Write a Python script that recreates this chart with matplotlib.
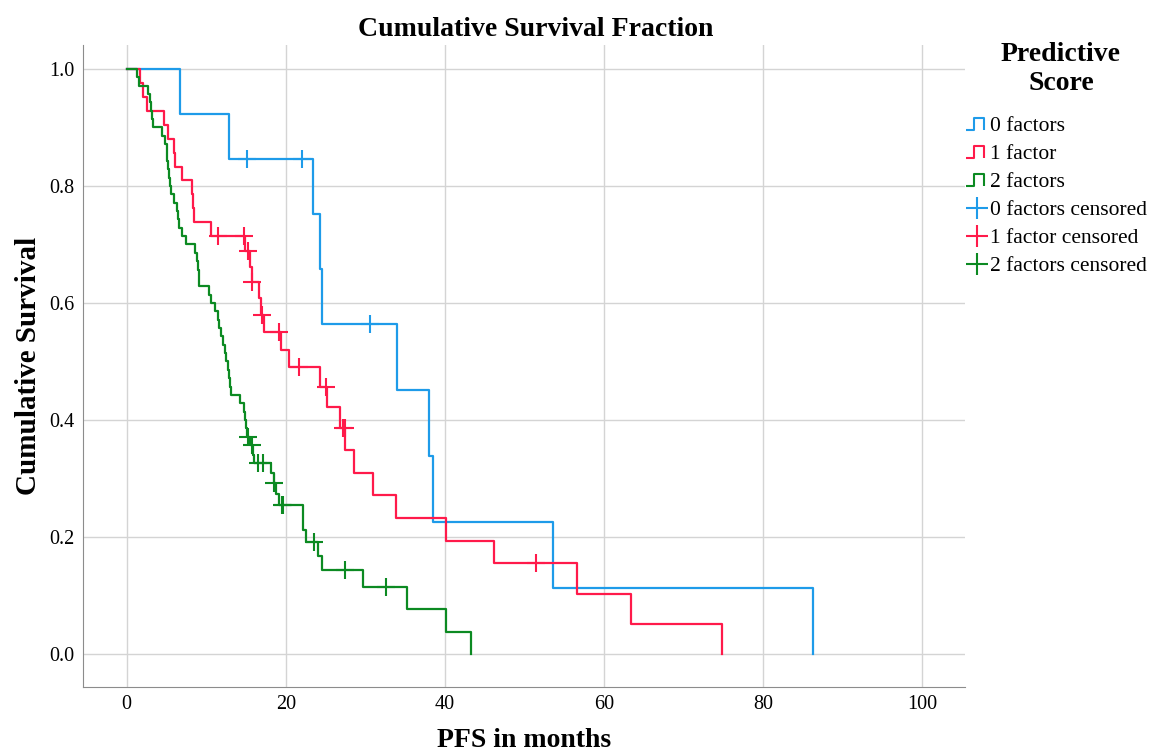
import matplotlib
matplotlib.use('Agg')
import matplotlib.pyplot as plt
from matplotlib.lines import Line2D
from matplotlib.path import Path

# Kaplan-Meier steps: time (months) and survival after each drop
t0 = [0, 6.7, 12.8, 23.4, 24.3, 24.6, 34.0, 38.0, 38.45, 53.6, 86.3]
s0 = [1.0, 0.923, 0.846, 0.752, 0.658, 0.564, 0.451, 0.338, 0.226, 0.113, 0.0]

t1 = [0, 1.7, 2.0, 2.6, 4.7, 5.2, 5.9, 6.1, 6.9, 8.2, 8.35, 8.5, 10.6, 14.9, 15.5,
      15.8, 16.6, 16.9, 17.2, 19.4, 20.4, 24.3, 25.2, 26.8, 27.5, 28.6, 31.0, 33.8,
      40.1, 46.2, 56.6, 63.4, 74.8]
s1 = [1.0, 0.976, 0.952, 0.929, 0.905, 0.881, 0.857, 0.833, 0.810, 0.786, 0.762,
      0.738, 0.714, 0.689, 0.662, 0.636, 0.608, 0.580, 0.551, 0.520, 0.490, 0.457,
      0.422, 0.387, 0.348, 0.310, 0.271, 0.232, 0.194, 0.155, 0.103, 0.052, 0.0]

t2 = [0, 1.3, 1.6, 2.7, 2.9, 3.05, 3.2, 3.3, 4.4, 4.8, 5.0, 5.1, 5.2, 5.35, 5.5,
      5.6, 5.9, 6.3, 6.45, 6.6, 7.0, 7.5, 8.55, 8.8, 9.0, 9.05, 9.1, 10.4, 10.6,
      11.1, 11.5, 11.6, 11.9, 12.1, 12.3, 12.5, 12.7, 12.9, 13.0, 13.05, 14.2,
      14.8, 14.9, 15.05, 15.15, 15.5, 15.9, 16.0, 18.2, 18.5, 18.8, 19.2, 22.1,
      22.5, 24.1, 24.6, 29.7, 35.2, 40.1, 43.3]
s2 = [1.0, 0.986, 0.971, 0.957, 0.943, 0.929, 0.914, 0.900, 0.886, 0.871, 0.857,
      0.843, 0.829, 0.814, 0.800, 0.786, 0.771, 0.757, 0.743, 0.729, 0.714, 0.700,
      0.686, 0.671, 0.657, 0.643, 0.629, 0.614, 0.600, 0.586, 0.571, 0.557, 0.543,
      0.529, 0.514, 0.500, 0.486, 0.471, 0.457, 0.443, 0.429, 0.414, 0.400, 0.386,
      0.371, 0.357, 0.341, 0.326, 0.309, 0.292, 0.273, 0.255, 0.212, 0.191, 0.167,
      0.143, 0.115, 0.077, 0.038, 0.0]

# censored cases
c0_t = [15.1, 22.0, 30.6]
c0_s = [0.846, 0.846, 0.564]
c1_t = [11.5, 14.7, 15.2, 15.8, 17.0, 19.1, 21.6, 25.1, 27.2, 27.4, 51.4]
c1_s = [0.714, 0.714, 0.689, 0.636, 0.580, 0.551, 0.490, 0.457, 0.387, 0.387, 0.155]
c2_t = [15.3, 15.8, 16.5, 17.1, 18.5, 19.5, 19.7, 23.5, 27.5, 32.6]
c2_s = [0.371, 0.357, 0.326, 0.326, 0.292, 0.255, 0.255, 0.191, 0.143, 0.115]

groups = ['0 factors', '1 factor', '2 factors']
colors = ['#1e9be9', '#ff1a4a', '#0c8a22']

plt.rcParams['font.family'] = ['Liberation Serif', 'DejaVu Serif']

fig = plt.figure(figsize=(11.6, 7.53), dpi=100)
ax = fig.add_axes([83/1160, 1-687/753, (965-83)/1160, (687-45)/753])

curves = [(t0, s0, c0_t, c0_s), (t1, s1, c1_t, c1_s), (t2, s2, c2_t, c2_s)]
for (t, s, ct, cs), col in zip(curves, colors):
    ax.step(t, s, where='post', color=col, lw=1.6, zorder=3)
    ax.plot(ct, cs, linestyle='None', marker='+', ms=13, mew=1.5, color=col, zorder=4)

ax.set_xlim(-5.5, 105.4)
ax.set_ylim(-0.0564, 1.041)
ax.set_xticks([0, 20, 40, 60, 80, 100])
ax.set_yticks([0.0, 0.2, 0.4, 0.6, 0.8, 1.0])
ax.set_yticklabels(['%.1f' % v for v in ax.get_yticks()])
ax.grid(True, color='#d4d4d4', lw=1.0)
ax.set_axisbelow(True)
for side in ['top', 'right']:
    ax.spines[side].set_visible(False)
for side in ['left', 'bottom']:
    ax.spines[side].set_color('#8c8c8c')
ax.tick_params(length=0, labelsize=14.5, pad=6)

ax.set_xlabel('PFS in months', fontsize=20, fontweight='bold', labelpad=10)
ax.set_ylabel('Cumulative Survival', fontsize=21, fontweight='bold', labelpad=5)
fig.text(536/1160, 1-30/753, 'Cumulative Survival Fraction', ha='center', va='center',
         fontsize=20, fontweight='bold')

# legend: step icon for curves, plus sign for censored
fig.text(1061/1160, 1-69/753, 'Predictive\nScore', ha='center', va='center',
         fontsize=20, fontweight='bold', linespacing=1.2)
step_icon = Path([(-1.0, -0.5), (-0.3, -0.5), (-0.3, 0.5), (0.6, 0.5), (0.6, -0.5)])
handles = []
labels = []
for g, col in zip(groups, colors):
    handles.append(Line2D([], [], linestyle='None', marker=step_icon, ms=16,
                          mfc='none', mec=col, mew=1.5))
    labels.append(g)
for g, col in zip(groups, colors):
    handles.append(Line2D([], [], linestyle='None', marker='+', ms=16, mew=1.5, color=col))
    labels.append(g + ' censored')
leg = fig.legend(handles, labels, loc='upper left', bbox_to_anchor=(966/1160, 1-116/753),
                 frameon=False, fontsize=15.5,
                 handlelength=1.0, handletextpad=0.12, labelspacing=0.37, borderaxespad=0,
                 borderpad=0)

fig.savefig('out.png', dpi=100)
